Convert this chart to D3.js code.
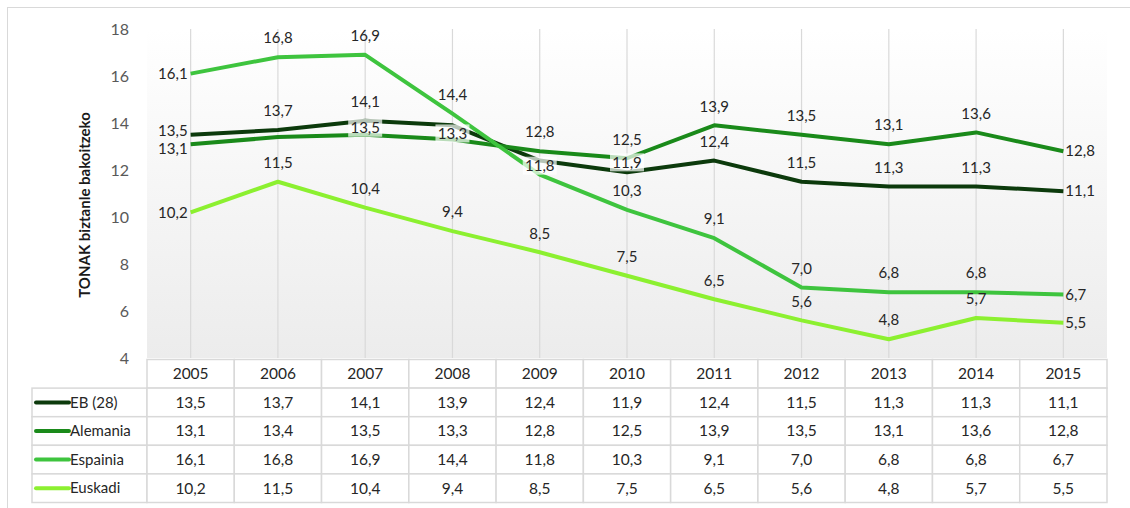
<!DOCTYPE html>
<html>
<head>
<meta charset="utf-8">
<script src="https://cdn.jsdelivr.net/npm/d3@7"></script>
<style>
  body { margin: 0; background: #fff; }
  svg { display: block; font-family: Lato, "Open Sans", sans-serif; }
</style>
</head>
<body>
<div id="chart"></div>
<script>
// data
var years = ["2005", "2006", "2007", "2008", "2009", "2010", "2011", "2012", "2013", "2014", "2015"];
var seriesNames = ["EB (28)", "Alemania", "Espainia", "Euskadi"];
var ebValues = [13.5, 13.7, 14.1, 13.9, 12.4, 11.9, 12.4, 11.5, 11.3, 11.3, 11.1];
var alemaniaValues = [13.1, 13.4, 13.5, 13.3, 12.8, 12.5, 13.9, 13.5, 13.1, 13.6, 12.8];
var espainiaValues = [16.1, 16.8, 16.9, 14.4, 11.8, 10.3, 9.1, 7.0, 6.8, 6.8, 6.7];
var euskadiValues = [10.2, 11.5, 10.4, 9.4, 8.5, 7.5, 6.5, 5.6, 4.8, 5.7, 5.5];
var yTicks = [4, 6, 8, 10, 12, 14, 16, 18];
var yTitle = "TONAK biztanle bakoitzeko";

var colors = ["#0c3a0c", "#1a8a1a", "#3ec43e", "#8cf030"];

// labels that Excel dropped or nudged because of overlaps
var hiddenLabels = ["EB (28)|2008", "EB (28)|2009", "Alemania|2006"];
var labelNudge = {
    "Alemania|2007": -7,
    "Alemania|2008": -6,
    "EB (28)|2010": -10,
    "Espainia|2009": -9
};
var sideNudge = { "EB (28)|2005": -4, "Alemania|2005": 4.5 };

var width = 1130;
var height = 508;
var plot = { left: 147, right: 1107, top: 29, bottom: 358 };
var rowH = 28.6;

var series = seriesNames.map(function(name, i) {
    var vals = [ebValues, alemaniaValues, espainiaValues, euskadiValues][i];
    return { name: name, color: colors[i], values: vals };
});

var fmt = function(v) { return d3.format(".1f")(v).replace(".", ","); };

var svg = d3.select("#chart").append("svg")
    .attr("width", width)
    .attr("height", height);

// outer frame
svg.append("rect")
    .attr("x", 7.5).attr("y", 7.5)
    .attr("width", width).attr("height", height)
    .attr("fill", "none")
    .attr("stroke", "#d9d9d9");

var x = d3.scaleBand().domain(years).range([plot.left, plot.right]);
var y = d3.scaleLinear().domain([4, 18]).range([plot.bottom, plot.top]);
var cx = function(yr) { return x(yr) + x.bandwidth() / 2; };

// plot background gradient
var grad = svg.append("defs").append("linearGradient")
    .attr("id", "bg").attr("x1", 0).attr("y1", 0).attr("x2", 0).attr("y2", 1);
grad.append("stop").attr("offset", "0%").attr("stop-color", "#ffffff");
grad.append("stop").attr("offset", "100%").attr("stop-color", "#ececec");

svg.append("rect")
    .attr("x", plot.left).attr("y", plot.top)
    .attr("width", plot.right - plot.left)
    .attr("height", plot.bottom - plot.top)
    .attr("fill", "url(#bg)");

// vertical gridlines at categories
svg.append("g").selectAll("line")
    .data(years)
    .enter().append("line")
    .attr("x1", function(d) { return cx(d); })
    .attr("x2", function(d) { return cx(d); })
    .attr("y1", plot.top)
    .attr("y2", plot.bottom)
    .attr("stroke", "#d9d9d9")
    .attr("stroke-width", 1.2);

// y axis labels
var yAxis = d3.axisLeft(y).tickValues(yTicks).tickSize(0).tickPadding(0);
var yg = svg.append("g")
    .attr("transform", "translate(129,0)")
    .call(yAxis);
yg.select(".domain").remove();
yg.selectAll("text")
    .attr("font-family", "Lato, sans-serif")
    .attr("font-size", 16)
    .attr("fill", "#595959");

svg.append("text")
    .attr("transform", "translate(90,205) rotate(-90)")
    .attr("text-anchor", "middle")
    .attr("font-size", 15)
    .attr("font-weight", "bold")
    .attr("fill", "#1a1a1a")
    .text(yTitle);

// lines
var line = d3.line()
    .x(function(d, i) { return cx(years[i]); })
    .y(function(d) { return y(d); });

svg.append("g").selectAll("path")
    .data(series)
    .enter().append("path")
    .attr("d", function(d) { return line(d.values); })
    .attr("fill", "none")
    .attr("stroke", function(d) { return d.color; })
    .attr("stroke-width", 4)
    .attr("stroke-linejoin", "round");

// data labels
var labelData = [];
series.forEach(function(s) {
    s.values.forEach(function(v, i) {
        var key = s.name + "|" + years[i];
        if (hiddenLabels.indexOf(key) >= 0) return;
        labelData.push({ key: key, value: v, i: i });
    });
});

var labels = svg.append("g").selectAll("g")
    .data(labelData)
    .enter().append("g")
    .attr("transform", function(d) {
        var px = cx(years[d.i]);
        var py = y(d.value) + (sideNudge[d.key] || 0);
        if (d.i === 0) return "translate(" + (px - 3) + "," + py + ")";
        if (d.i === years.length - 1) return "translate(" + (px + 2) + "," + py + ")";
        var dy = labelNudge[d.key] !== undefined ? labelNudge[d.key] : -19;
        return "translate(" + px + "," + (py + dy) + ")";
    });

labels.filter(function(d) { return labelNudge[d.key] !== undefined; })
    .append("rect")
    .attr("x", -17).attr("y", -9)
    .attr("width", 34).attr("height", 18)
    .attr("fill", "#ffffff")
    .attr("opacity", 0.7);

labels.append("text")
    .attr("text-anchor", function(d) {
        if (d.i === 0) return "end";
        if (d.i === years.length - 1) return "start";
        return "middle";
    })
    .attr("dy", "0.35em")
    .attr("font-size", 15)
    .attr("fill", "#262626")
    .text(function(d) { return fmt(d.value); });

// data table
var table = svg.append("g");
var tableTop = plot.bottom + 1.5;
var legendLeft = 32;
var border = "#d9d9d9";

// header row
table.selectAll(".hdr")
    .data(years)
    .enter().append("rect")
    .attr("class", "hdr")
    .attr("x", function(d) { return x(d); })
    .attr("y", tableTop)
    .attr("width", x.bandwidth())
    .attr("height", rowH)
    .attr("fill", "#fff")
    .attr("stroke", border)
    .attr("stroke-width", 1.5);

table.selectAll(".hdrtxt")
    .data(years)
    .enter().append("text")
    .attr("x", function(d) { return cx(d); })
    .attr("y", tableTop + rowH / 2)
    .attr("dy", "0.35em")
    .attr("text-anchor", "middle")
    .attr("font-size", 15.5)
    .attr("fill", "#262626")
    .text(function(d) { return d; });

series.forEach(function(s, r) {
    var ry = tableTop + rowH * (r + 1);
    var row = table.append("g");

    row.append("rect")
        .attr("x", legendLeft).attr("y", ry)
        .attr("width", plot.left - legendLeft).attr("height", rowH)
        .attr("fill", "#fff")
        .attr("stroke", border)
        .attr("stroke-width", 1.5);

    row.append("line")
        .attr("x1", 36).attr("x2", 69)
        .attr("y1", ry + rowH / 2).attr("y2", ry + rowH / 2)
        .attr("stroke", s.color)
        .attr("stroke-width", 4)
        .attr("stroke-linecap", "round");

    row.append("text")
        .attr("x", 70)
        .attr("y", ry + rowH / 2)
        .attr("dy", "0.35em")
        .attr("font-size", 15)
        .attr("fill", "#262626")
        .text(s.name);

    row.selectAll(".cell")
        .data(s.values)
        .enter().append("rect")
        .attr("x", function(d, i) { return x(years[i]); })
        .attr("y", ry)
        .attr("width", x.bandwidth())
        .attr("height", rowH)
        .attr("fill", "#fff")
        .attr("stroke", border)
        .attr("stroke-width", 1.5);

    row.selectAll(".val")
        .data(s.values)
        .enter().append("text")
        .attr("x", function(d, i) { return cx(years[i]); })
        .attr("y", ry + rowH / 2)
        .attr("dy", "0.35em")
        .attr("text-anchor", "middle")
        .attr("font-size", 15.5)
        .attr("fill", "#262626")
        .text(function(d) { return fmt(d); });
});
</script>
</body>
</html>
